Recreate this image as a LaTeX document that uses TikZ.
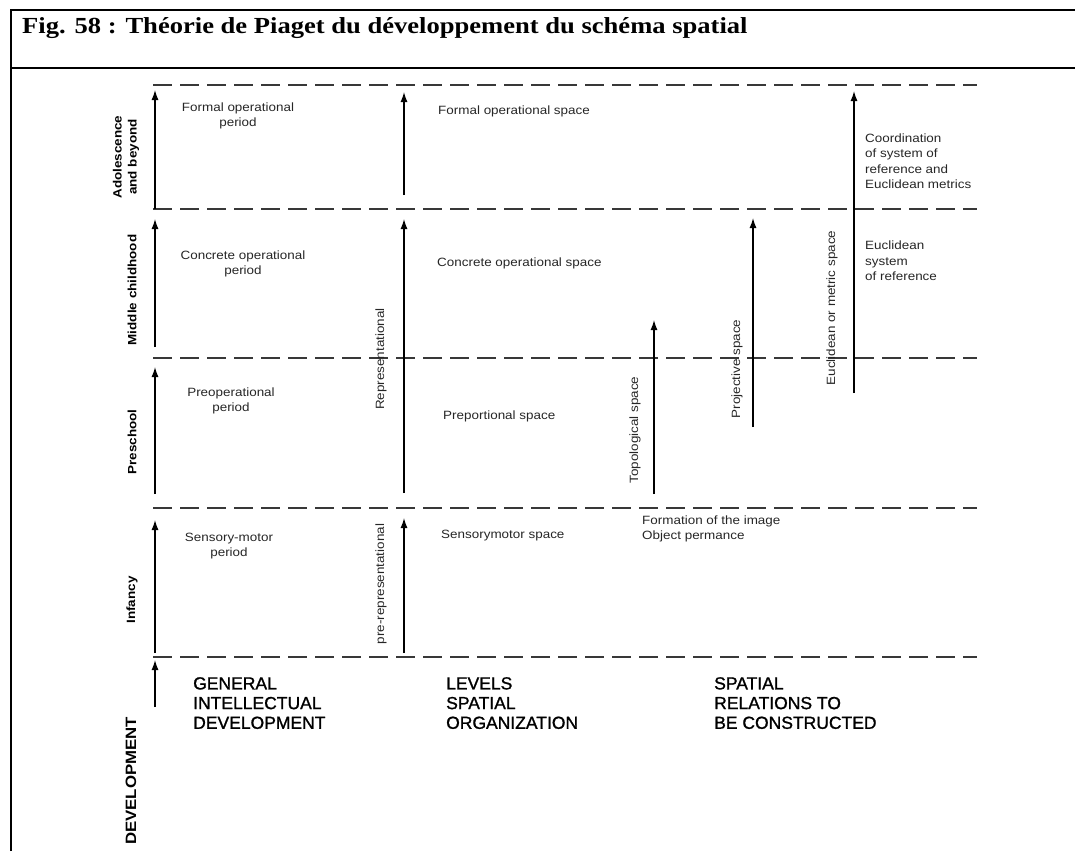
\documentclass[tikz,border=0pt]{standalone}
\usepackage{fontspec}
\setmainfont{Liberation Serif}
\newfontfamily\arialf{Liberation Sans}
\newfontfamily\headf[FakeBold=1.2]{Liberation Sans}
\usetikzlibrary{arrows.meta}
\begin{document}
\begin{tikzpicture}[x=1pt,y=-1pt,
  frame/.style={line width=2.6pt, black},
  band/.style={line width=1.6pt, black!78, dash pattern=on 19pt off 8pt},
  uparrow/.style={line width=1.3pt, -{Latex[length=10pt,width=7pt]}},
  lab/.style={font=\arialf\fontsize{12}{15.5}\selectfont, inner sep=0pt, xscale=1.12, text=black!85},
  boldlab/.style={font=\arialf\bfseries\fontsize{12}{15}\selectfont, inner sep=0pt, xscale=1.12, align=center},
  head/.style={font=\headf\fontsize{17.5}{19.7}\selectfont, inner sep=0pt, align=left, anchor=north west},
]
\useasboundingbox (0,0) rectangle (1075,851);
% frame
\draw[frame] (11,851) -- (11,10) -- (1075,10);
\draw[frame] (11,68) -- (1075,68);
\node[anchor=base west, font=\bfseries\fontsize{23}{27}\selectfont, inner sep=0pt, xscale=1.155] (title) at (22,34)
  {Fig. 58 : Théorie de Piaget du développement du schéma spatial};

% dashed band lines
\foreach \yy/\nm in {85/l1,209/l2,358/l3,508/l4,657/l5}{
  \coordinate (\nm a) at (153,\yy);
  \coordinate (\nm b) at (977,\yy);
  \draw[band] (\nm a) -- (\nm b);
}

% left column arrows
\coordinate (a1s) at (155,209); \coordinate (a1e) at (155,90);
\coordinate (a2s) at (155,347); \coordinate (a2e) at (155,219);
\coordinate (a3s) at (155,494); \coordinate (a3e) at (155,367);
\coordinate (a4s) at (155,653); \coordinate (a4e) at (155,520);
\coordinate (a5s) at (155,707); \coordinate (a5e) at (155,660);
\foreach \i in {1,...,5}{\draw[uparrow] (a\i s) -- (a\i e);}

% second column arrows
\coordinate (b1s) at (404,195); \coordinate (b1e) at (404,92);
\coordinate (b2s) at (404,493); \coordinate (b2e) at (404,219);
\coordinate (b3s) at (404,653); \coordinate (b3e) at (404,518);
\foreach \i in {1,2,3}{\draw[uparrow] (b\i s) -- (b\i e);}

% third column arrows
\coordinate (ts) at (654,494); \coordinate (te) at (654,320);
\coordinate (ps) at (753,427); \coordinate (pe) at (753,218);
\coordinate (es) at (854,393); \coordinate (ee) at (854,91);
\draw[uparrow] (ts) -- (te);
\draw[uparrow] (ps) -- (pe);
\draw[uparrow] (es) -- (ee);

% left stage labels
\node[rotate=90, boldlab] (adol) at (126,157) {Adolescence\\and beyond};
\node[rotate=90, boldlab] (mid) at (132,290) {Middle childhood};
\node[rotate=90, boldlab] (pre) at (132,442) {Preschool};
\node[rotate=90, boldlab] (inf) at (132,600) {Infancy};
\node[rotate=90, font=\arialf\bfseries\fontsize{15}{18}\selectfont, inner sep=0pt, xscale=1.12] (dev) at (131,781) {DEVELOPMENT};

% column 1 labels
\node[lab, align=center] (c1a) at (238,116) {Formal operational\\period};
\node[lab, align=center] (c1b) at (243,264) {Concrete operational\\period};
\node[lab, align=center] (c1c) at (231,401) {Preoperational\\period};
\node[lab, align=center] (c1d) at (229,546) {Sensory-motor\\period};

% column 2 labels
\node[lab, anchor=west] (c2a) at (438,111) {Formal operational space};
\node[lab, anchor=west] (c2b) at (437,263) {Concrete operational space};
\node[lab, anchor=west] (c2c) at (443,416) {Preportional space};
\node[lab, anchor=west] (c2d) at (441,536) {Sensorymotor space};
\node[rotate=90, lab] (rep) at (381,359) {Representational};
\node[rotate=90, lab] (prerep) at (381,584) {pre-representational};

% column 3 labels
\node[rotate=90, lab] (topo) at (635,430) {Topological space};
\node[rotate=90, lab] (proj) at (737,369) {Projective space};
\node[rotate=90, lab] (eucl) at (832,308) {Euclidean or metric space};
\node[lab, anchor=west, align=left] (form) at (642,529) {Formation of the image\\Object permance};
\node[lab, anchor=west, align=left] (coord) at (865,161) {Coordination\\of system of\\reference and\\Euclidean metrics};
\node[lab, anchor=west, align=left] (esys) at (865,261) {Euclidean\\system\\of reference};

% bottom headings
\node[head] (h1) at (193,677) {GENERAL\\INTELLECTUAL\\DEVELOPMENT};
\node[head] (h2) at (446,677) {LEVELS\\SPATIAL\\ORGANIZATION};
\node[head] (h3) at (714,677) {SPATIAL\\RELATIONS TO\\BE CONSTRUCTED};
\end{tikzpicture}
\end{document}
